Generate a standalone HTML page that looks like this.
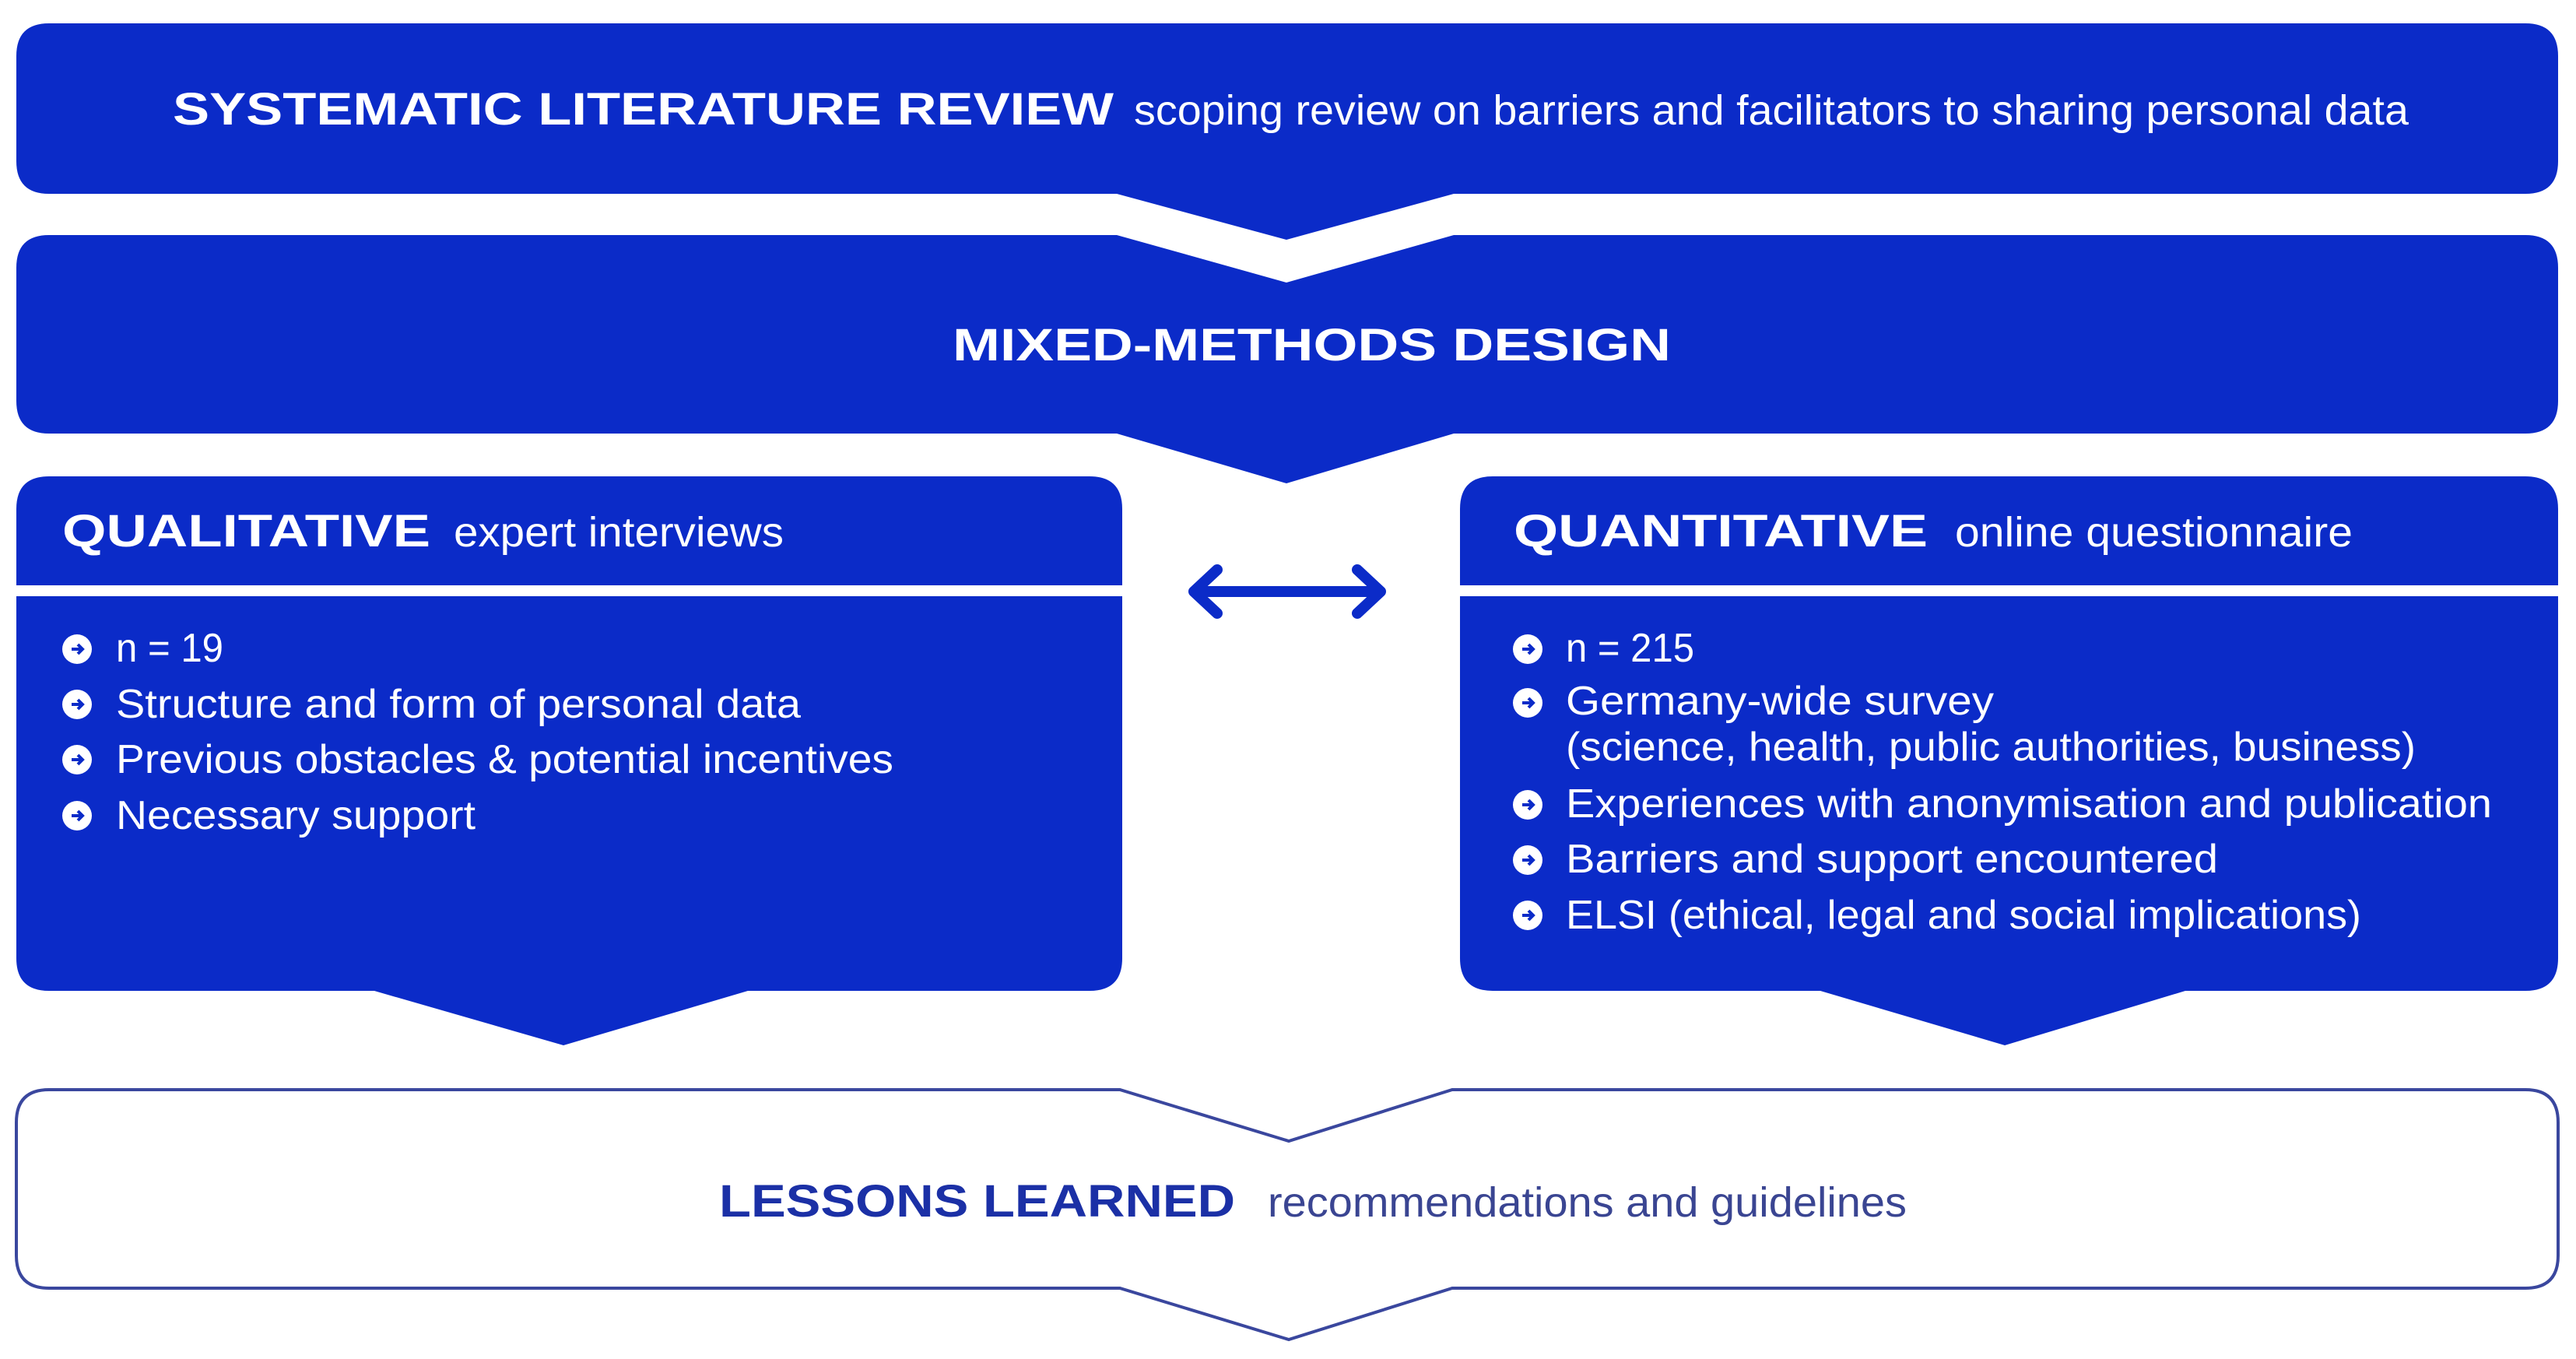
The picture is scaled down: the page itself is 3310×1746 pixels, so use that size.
<!DOCTYPE html>
<html><head><meta charset="utf-8"><style>
html,body{margin:0;padding:0;background:#fff;}
svg{display:block;}
text{font-family:"Liberation Sans",sans-serif;}
</style></head><body>
<svg width="3310" height="1746" viewBox="0 0 3310 1746" xmlns="http://www.w3.org/2000/svg">
<defs>
<g id="b">
<circle cx="0" cy="0" r="19" fill="#fff"/>
<path d="M-7,0 H6 M1,-6 L7,0 L1,6" stroke="#0b2bc8" stroke-width="4" fill="none"/>
</g>
</defs>
<rect width="3310" height="1746" fill="#fff"/>
<!-- Box1 -->
<path d="M63,30 H3245 Q3287,30 3287,72 V207 Q3287,249 3245,249 H1868 L1653,308 L1435,249 H63 Q21,249 21,207 V72 Q21,30 63,30Z" fill="#0b2bc8"/>
<text x="222" y="160" font-size="58" font-weight="bold" fill="#fff" textLength="1209" lengthAdjust="spacingAndGlyphs">SYSTEMATIC LITERATURE REVIEW</text>
<text x="1457" y="160" font-size="54" fill="#fff" textLength="1638" lengthAdjust="spacingAndGlyphs">scoping review on barriers and facilitators to sharing personal data</text>
<!-- Box2 -->
<path d="M63,302 H1435 L1653,363 L1868,302 H3245 Q3287,302 3287,344 V515 Q3287,557 3245,557 H1868 L1653,621 L1435,557 H63 Q21,557 21,515 V344 Q21,302 63,302Z" fill="#0b2bc8"/>
<text x="1224" y="463" font-size="58" font-weight="bold" fill="#fff" textLength="923" lengthAdjust="spacingAndGlyphs">MIXED-METHODS DESIGN</text>
<!-- Qualitative -->
<path d="M63,612 H1400 Q1442,612 1442,654 V1231 Q1442,1273 1400,1273 H961 L724,1343 L481,1273 H63 Q21,1273 21,1231 V654 Q21,612 63,612Z" fill="#0b2bc8"/>
<rect x="21" y="752" width="1421" height="14" fill="#fff"/>
<text x="80" y="702" font-size="58" font-weight="bold" fill="#fff" textLength="473" lengthAdjust="spacingAndGlyphs">QUALITATIVE</text>
<text x="583" y="702" font-size="54" fill="#fff" textLength="424" lengthAdjust="spacingAndGlyphs">expert interviews</text>
<g fill="#fff" font-size="52">
<use href="#b" x="99" y="834"/><text x="149" y="850" textLength="138" lengthAdjust="spacingAndGlyphs">n = 19</text>
<use href="#b" x="99" y="905"/><text x="149" y="922" textLength="880" lengthAdjust="spacingAndGlyphs">Structure and form of personal data</text>
<use href="#b" x="99" y="976"/><text x="149" y="993" textLength="999" lengthAdjust="spacingAndGlyphs">Previous obstacles &amp; potential incentives</text>
<use href="#b" x="99" y="1048"/><text x="149" y="1065" textLength="462" lengthAdjust="spacingAndGlyphs">Necessary support</text>
</g>
<!-- Quantitative -->
<path d="M1918,612 H3245 Q3287,612 3287,654 V1231 Q3287,1273 3245,1273 H2808 L2576,1343 L2339,1273 H1918 Q1876,1273 1876,1231 V654 Q1876,612 1918,612Z" fill="#0b2bc8"/>
<rect x="1876" y="752" width="1411" height="14" fill="#fff"/>
<text x="1945" y="702" font-size="58" font-weight="bold" fill="#fff" textLength="532" lengthAdjust="spacingAndGlyphs">QUANTITATIVE</text>
<text x="2512" y="702" font-size="54" fill="#fff" textLength="511" lengthAdjust="spacingAndGlyphs">online questionnaire</text>
<g fill="#fff" font-size="52">
<use href="#b" x="1963" y="834"/><text x="2012" y="850" textLength="165" lengthAdjust="spacingAndGlyphs">n = 215</text>
<use href="#b" x="1963" y="903"/><text x="2012" y="918" textLength="550" lengthAdjust="spacingAndGlyphs">Germany-wide survey</text>
<text x="2012" y="977" textLength="1092" lengthAdjust="spacingAndGlyphs">(science, health, public authorities, business)</text>
<use href="#b" x="1963" y="1034"/><text x="2012" y="1050" textLength="1190" lengthAdjust="spacingAndGlyphs">Experiences with anonymisation and publication</text>
<use href="#b" x="1963" y="1105"/><text x="2012" y="1121" textLength="838" lengthAdjust="spacingAndGlyphs">Barriers and support encountered</text>
<use href="#b" x="1963" y="1176"/><text x="2012" y="1193" textLength="1022" lengthAdjust="spacingAndGlyphs">ELSI (ethical, legal and social implications)</text>
</g>
<!-- double arrow -->
<path d="M1534,760 H1774 M1564,732 L1534,760 L1564,788 M1744,732 L1774,760 L1744,788" stroke="#0b2bc8" stroke-width="14" fill="none" stroke-linecap="round" stroke-linejoin="round"/>
<!-- Lessons -->
<path d="M63,1400 H1439 L1656,1466 L1866,1400 H3245 Q3287,1400 3287,1442 V1613 Q3287,1655 3245,1655 H1866 L1656,1721 L1439,1655 H63 Q21,1655 21,1613 V1442 Q21,1400 63,1400Z" fill="#fff" stroke="#3a479e" stroke-width="4"/>
<text x="924" y="1563" font-size="58" font-weight="bold" fill="#1b30a6" textLength="663" lengthAdjust="spacingAndGlyphs">LESSONS LEARNED</text>
<text x="1629" y="1563" font-size="54" fill="#3a4592" textLength="821" lengthAdjust="spacingAndGlyphs">recommendations and guidelines</text>
</svg>
</body></html>
